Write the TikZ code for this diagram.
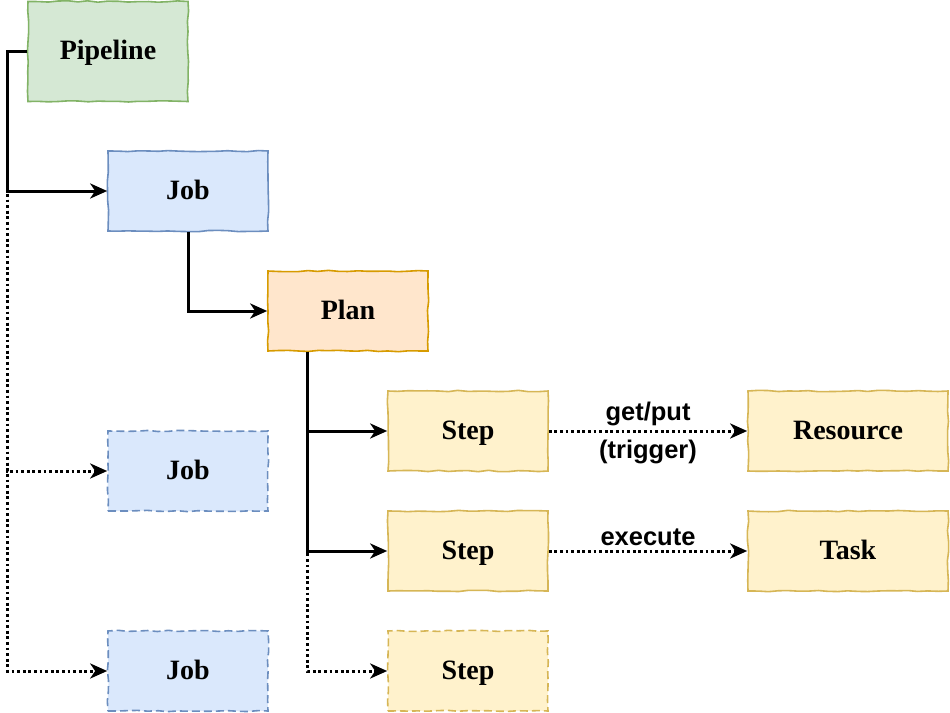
\documentclass[tikz,border=0pt]{standalone}
\usepackage{fontspec}
\setmainfont{Liberation Serif}
\newfontfamily\edgefont{Liberation Sans}
\usetikzlibrary{arrows.meta}
\usetikzlibrary{decorations.pathmorphing}

\definecolor{pipefill}{HTML}{D5E8D4}
\definecolor{pipeline}{HTML}{82B366}
\definecolor{jobfill}{HTML}{DAE8FC}
\definecolor{jobline}{HTML}{6C8EBF}
\definecolor{planfill}{HTML}{FFE6CC}
\definecolor{planline}{HTML}{D79B00}
\definecolor{stepfill}{HTML}{FFF2CC}
\definecolor{stepline}{HTML}{D6B656}

\tikzset{
  sketchbox/.style={draw, line width=0.8pt, minimum width=80pt, minimum height=40pt,
    inner sep=0pt, font=\fontsize{14}{16}\selectfont\bfseries,
    text height=0.8em, text depth=0pt,
    decorate, decoration={random steps, segment length=5pt, amplitude=0.35pt}},
  pipebox/.style={sketchbox, fill=pipefill, draw=pipeline, minimum height=50pt},
  jobbox/.style={sketchbox, fill=jobfill, draw=jobline},
  planbox/.style={sketchbox, fill=planfill, draw=planline},
  stepbox/.style={sketchbox, fill=stepfill, draw=stepline},
  maybe/.style={dash pattern=on 4pt off 2pt},
  flow/.style={line width=1.5pt, -{Stealth[length=8.5pt, width=7.5pt, inset=2.5pt]}},
  optflow/.style={flow, dash pattern=on 1.4pt off 1.4pt},
  edgelabel/.style={font=\fontsize{12.75}{15}\selectfont\edgefont\bfseries, inner sep=1pt}
}

\begin{document}
\begin{tikzpicture}[x=0.5pt, y=-0.5pt]
      \pgfmathsetseed{7}
      \useasboundingbox (0,0) rectangle (950,713);

      \node[pipebox] (pipeline) at (108,51.5) {Pipeline};
      \node[jobbox] (job) at (188,191) {Job};
      \node[planbox] (plan) at (348,311) {Plan};
      \node[stepbox] (stepget) at (468,431) {Step};
      \node[stepbox, minimum width=100pt] (resource) at (848,431) {Resource};
      \node[jobbox, maybe] (jobnext) at (188,471) {Job};
      \node[stepbox] (stepexec) at (468,551) {Step};
      \node[stepbox, minimum width=100pt] (task) at (848,551) {Task};
      \node[jobbox, maybe] (joblast) at (188,671) {Job};
      \node[stepbox, maybe] (steplast) at (468,671) {Step};

      % pipeline -> jobs
      \draw[optflow] (pipeline.west) -- ++(-20,0) |- (joblast.west);
      \draw[optflow] (pipeline.west) -- ++(-20,0) |- (jobnext.west);
      \draw[flow] (pipeline.west) -- ++(-20,0) |- (job.west);

      \draw[flow] (job.south) |- (plan.west);

      % plan -> steps
      \coordinate (plantap) at ([xshift=20pt]plan.south west);
      \draw[optflow] (plantap) |- (steplast.west);
      \draw[flow] (plantap) |- (stepexec.west);
      \draw[flow] (plantap) |- (stepget.west);

      \draw[optflow] (stepget.east) -- (resource.west)
        node[edgelabel, midway, above=1pt] {get/put}
        node[edgelabel, midway, below=3pt] {(trigger)};
      \draw[optflow] (stepexec.east) -- (task.west)
        node[edgelabel, midway, above=1pt] {execute};
\end{tikzpicture}
\end{document}
